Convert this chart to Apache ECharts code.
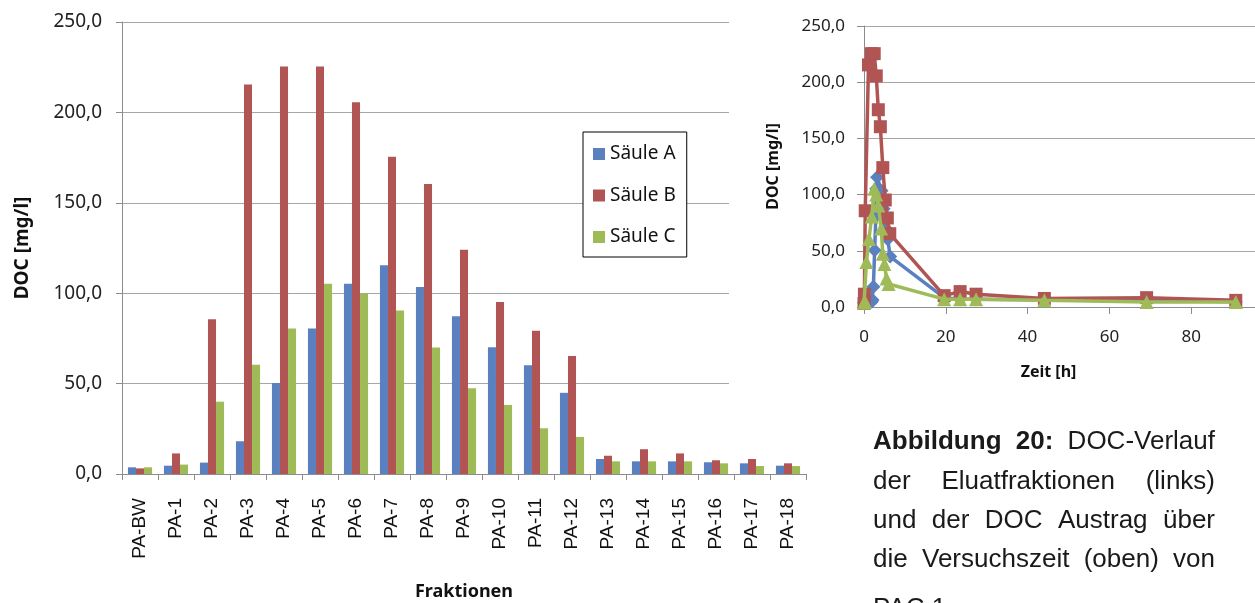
<!DOCTYPE html>
<html>
<head>
<meta charset="utf-8">
<script src="https://cdn.jsdelivr.net/npm/echarts@6/dist/echarts.min.js"></script>
<style>
html,body{margin:0;padding:0;background:#fff;}
#chart{width:1255px;height:603px;}
</style>
</head>
<body>
<div id="chart"></div>
<script>
// ---- data ----
const categories = ['PA-BW','PA-1','PA-2','PA-3','PA-4','PA-5','PA-6','PA-7','PA-8','PA-9','PA-10','PA-11','PA-12','PA-13','PA-14','PA-15','PA-16','PA-17','PA-18'];
const saeuleA = [3.7, 4.6, 6.3, 18.1, 50.4, 80.5, 105.2, 115.5, 103.4, 87.3, 70.1, 60.2, 44.9, 8.3, 7.0, 7.0, 6.5, 5.9, 4.6];
const saeuleB = [3.1, 11.4, 85.6, 215.4, 225.4, 225.4, 205.6, 175.5, 160.4, 124.0, 95.2, 79.2, 65.2, 10.1, 13.7, 11.4, 7.6, 8.3, 5.9];
const saeuleC = [3.7, 5.2, 40.0, 60.4, 80.5, 105.2, 100.0, 90.4, 69.9, 47.4, 38.2, 25.3, 20.5, 7.0, 7.0, 7.0, 5.9, 4.4, 4.4];
// sampling times [h] per column
const zeitA = [0, 1.9, 2.1, 2.3, 2.6, 2.9, 3.0, 3.2, 4.3, 4.8, 5.3, 5.8, 6.4, 19.6, 23.5, 27.4, 44.1, 69.1, 90.9];
const zeitB = [0, 0.1, 0.3, 1.1, 1.8, 2.5, 3.0, 3.5, 4.0, 4.6, 5.2, 5.7, 6.3, 19.6, 23.5, 27.4, 44.1, 69.1, 90.9];
const zeitC = [0, 0.2, 0.6, 1.2, 1.9, 2.5, 3.0, 3.5, 4.2, 4.6, 5.0, 5.5, 6.0, 19.6, 23.5, 27.4, 44.1, 69.1, 90.9];
const seriesNames = ['Säule A', 'Säule B', 'Säule C'];
const yTicks = [0, 50, 100, 150, 200, 250];
const xTicksRight = [0, 20, 40, 60, 80];
const captionLines = [
  [{t:'Abbildung', b:true}, {t:'20:', b:true}, {t:'DOC-Verlauf'}],
  [{t:'der'}, {t:'Eluatfraktionen'}, {t:'(links)'}],
  [{t:'und'}, {t:'der'}, {t:'DOC'}, {t:'Austrag'}, {t:'über'}],
  [{t:'die'}, {t:'Versuchszeit'}, {t:'(oben)'}, {t:'von'}],
  [{t:'PAC'}, {t:'1'}]
];

// ---- styles ----
const colors = ['#5B80C0', '#B05553', '#9FBB58'];
const gridColor = '#A6A6A6';
const axisColor = '#8C8C8C';
const fmt = v => v.toFixed(1).replace('.', ',');

const chart = echarts.init(document.getElementById('chart'), null, {renderer: 'canvas'});

// caption layout (justified)
const capFontSize = 26;
const capFamily = 'Liberation Sans';
const capLeft = 873, capRight = 1215;
const capY = [442, 482, 521, 560, 609];
const ctx = document.createElement('canvas').getContext('2d');
const captionEls = [];
captionLines.forEach((words, li) => {
  const widths = words.map(w => {
    ctx.font = (w.b ? 'bold ' : '') + capFontSize + 'px "' + capFamily + '"';
    return ctx.measureText(w.t).width;
  });
  const total = widths.reduce((a, b) => a + b, 0);
  const last = li === captionLines.length - 1;
  ctx.font = capFontSize + 'px "' + capFamily + '"';
  const normalSpace = ctx.measureText(' ').width;
  const spaceW = last ? normalSpace : (capRight - capLeft - total) / (words.length - 1);
  let x = capLeft;
  words.forEach((w, i) => {
    captionEls.push({
      type: 'text', x: x, y: capY[li], z: 100,
      style: {text: w.t, fill: '#1a1a1a', fontFamily: capFamily, fontSize: capFontSize,
        fontWeight: w.b ? 'bold' : 'normal', verticalAlign: 'middle', align: 'left'}
    });
    x += widths[i] + spaceW;
  });
});

const option = {
  animation: false,
  backgroundColor: '#fff',
  color: colors,
  legend: {
    data: seriesNames,
    orient: 'vertical',
    left: 583, top: 132,
    padding: [12, 11, 10, 10],
    itemWidth: 12, itemHeight: 12, itemGap: 21.5,
    icon: 'rect',
    backgroundColor: '#fff',
    borderColor: '#000', borderWidth: 1, borderRadius: 0,
    textStyle: {fontFamily: 'Noto Sans', fontSize: 19, color: '#111', lineHeight: 20}
  },
  grid: [
    {left: 122, top: 22, width: 684, bottom: 129, containLabel: false, outerBoundsMode: 'none'},
    {left: 864, top: 26, width: 391, bottom: 296, z: 60, containLabel: false, outerBoundsMode: 'none'}
  ],
  xAxis: [
    {
      type: 'category', gridIndex: 0, data: categories,
      name: 'Fraktionen', nameLocation: 'middle', nameGap: 109,
      nameTextStyle: {fontFamily: 'Noto Sans', fontSize: 18, fontWeight: 'bold', color: '#111'},
      axisLine: {lineStyle: {color: axisColor, width: 1}},
      axisTick: {show: true, length: 6, lineStyle: {color: axisColor}},
      axisLabel: {rotate: 90, margin: 24, fontFamily: 'Liberation Sans', fontSize: 19, color: '#111'}
    },
    {
      type: 'value', gridIndex: 1, min: 0, max: 95.6, interval: 20, z: 60,
      name: 'Zeit [h]', nameLocation: 'middle', nameGap: 57,
      nameTextStyle: {fontFamily: 'Noto Sans', fontSize: 16, fontWeight: 'bold', color: '#111', padding: [0, 22, 0, 0]},
      axisLine: {show: true, lineStyle: {color: axisColor}},
      axisTick: {show: true, length: 7, lineStyle: {color: axisColor}},
      splitLine: {show: false},
      axisLabel: {showMaxLabel: false, margin: 22, fontFamily: 'Noto Sans', fontSize: 17, color: '#222',
        formatter: v => (xTicksRight.indexOf(v) >= 0 ? String(v) : '')}
    }
  ],
  yAxis: [
    {
      type: 'value', gridIndex: 0, min: 0, max: 250, interval: 50,
      name: 'DOC [mg/l]', nameLocation: 'middle', nameGap: 90,
      nameTextStyle: {fontFamily: 'Noto Sans', fontSize: 19, fontWeight: 'bold', color: '#111'},
      axisLine: {show: true, lineStyle: {color: axisColor}},
      axisTick: {show: true, length: 6, lineStyle: {color: axisColor}},
      splitLine: {lineStyle: {color: gridColor, width: 1.2}},
      axisLabel: {margin: 20, fontFamily: 'Noto Sans', fontSize: 19, color: '#222',
        formatter: v => (yTicks.indexOf(v) >= 0 ? fmt(v) : '')}
    },
    {
      type: 'value', gridIndex: 1, min: 0, max: 250, interval: 50, z: 60,
      name: 'DOC [mg/l]', nameLocation: 'middle', nameGap: 83,
      nameTextStyle: {fontFamily: 'Noto Sans', fontSize: 16, fontWeight: 'bold', color: '#111'},
      axisLine: {show: true, lineStyle: {color: axisColor}},
      axisTick: {show: true, length: 7, lineStyle: {color: axisColor}},
      splitLine: {lineStyle: {color: gridColor, width: 1.2}},
      axisLabel: {margin: 19, fontFamily: 'Noto Sans', fontSize: 17, color: '#222',
        formatter: v => (yTicks.indexOf(v) >= 0 ? fmt(v) : '')}
    }
  ],
  graphic: [
    {type: 'rect', left: 729, top: 0, z: 50, shape: {width: 526, height: 400}, style: {fill: '#fff'}},
    ...captionEls
  ],
  series: [
    {name: seriesNames[0], type: 'bar', xAxisIndex: 0, yAxisIndex: 0, data: saeuleA, barGap: '0%', barCategoryGap: '33%'},
    {name: seriesNames[1], type: 'bar', xAxisIndex: 0, yAxisIndex: 0, data: saeuleB, barGap: '0%', barCategoryGap: '33%'},
    {name: seriesNames[2], type: 'bar', xAxisIndex: 0, yAxisIndex: 0, data: saeuleC, barGap: '0%', barCategoryGap: '33%'},
    {name: seriesNames[0] + ' ', type: 'line', xAxisIndex: 1, yAxisIndex: 1, z: 70, clip: false,
      data: zeitA.map((t, i) => [t, saeuleA[i]]), symbol: 'diamond', symbolSize: 14, showAllSymbol: true,
      lineStyle: {width: 3.5, color: colors[0]}, itemStyle: {color: colors[0]}},
    {name: seriesNames[1] + ' ', type: 'line', xAxisIndex: 1, yAxisIndex: 1, z: 71, clip: false,
      data: zeitB.map((t, i) => [t, saeuleB[i]]), symbol: 'rect', symbolSize: 13, showAllSymbol: true,
      lineStyle: {width: 3.5, color: colors[1]}, itemStyle: {color: colors[1]}},
    {name: seriesNames[2] + ' ', type: 'line', xAxisIndex: 1, yAxisIndex: 1, z: 72, clip: false,
      data: zeitC.map((t, i) => [t, saeuleC[i]]), symbol: 'triangle', symbolSize: 14, showAllSymbol: true,
      lineStyle: {width: 3.5, color: colors[2]}, itemStyle: {color: colors[2]}}
  ]
};
chart.setOption(option);
</script>
</body>
</html>
